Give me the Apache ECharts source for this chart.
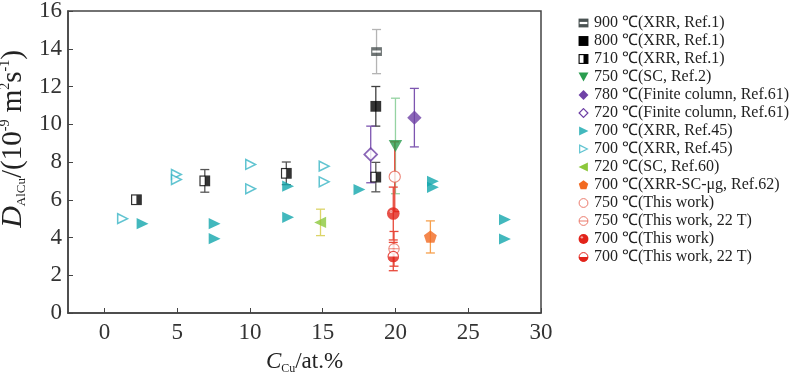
<!DOCTYPE html>
<html>
<head>
<meta charset="utf-8">
<script src="https://cdn.jsdelivr.net/npm/echarts@6/dist/echarts.min.js"></script>
<style>
  html, body { margin: 0; padding: 0; background: #fff; }
  #chart { width: 797px; height: 375px; }
</style>
</head>
<body>
<div id="chart"></div>
<script>
// [C_Cu (at.%), D (1e-9 m^2/s), error]
const xrr900 = [[18.7, 13.85, 1.17]]
const xrr800 = [[18.65, 10.95, 1.05]]
const xrr710 = [[2.2, 6.0, 0], [6.9, 7.0, 0.6], [12.5, 7.4, 0.6], [18.65, 7.2, 0.78]]
const sc750 = [[20.0, 8.85, 2.53]]
const fc780 = [[21.3, 10.35, 1.55]]
const fc720 = [[18.3, 8.4, 1.5]]
const xrr700 = [[2.6, 4.73], [7.55, 4.73], [7.55, 3.94], [12.6, 6.72], [12.6, 5.07],
  [17.5, 6.54], [22.55, 6.98], [22.55, 6.66], [27.5, 4.95], [27.5, 3.92]]
const xrr700b = [[1.25, 5.0], [4.95, 7.34], [4.95, 7.07], [10.05, 7.87], [10.05, 6.58],
  [15.1, 7.78], [15.1, 6.95]]
const sc720 = [[14.85, 4.8, 0.7]]
const mug700 = [[22.4, 4.03, 0.85]]
const tw750 = [[19.95, 7.22, 1.85]]
const tw750T = [[19.9, 3.4, 0.92]]
const tw700 = [[19.85, 5.27, 1.4]]
const tw700T = [[19.85, 2.99, 0.75]]

const xTicks = [0, 5, 10, 15, 20, 25, 30]

const svg = (body) =>
  'image://data:image/svg+xml;utf8,' +
  encodeURIComponent('<svg xmlns="http://www.w3.org/2000/svg" width="20" height="20" viewBox="0 0 20 20">' + body + '</svg>')

const icons = {
  gray: svg('<rect x="1" y="2" width="18" height="16" fill="#4a5252"/><rect x="3" y="8" width="14" height="4" fill="#fff"/>'),
  black: svg('<rect x="1" y="1" width="18" height="18" fill="#000"/>'),
  half: svg('<rect x="2" y="2" width="16" height="16" fill="#fff" stroke="#000" stroke-width="2"/><rect x="10" y="2" width="8" height="16" fill="#000"/>'),
  triDown: svg('<polygon points="1,2 19,2 10,18" fill="#2a9d4f"/>'),
  diamond: svg('<polygon points="10,1 19,10 10,19 1,10" fill="#6f42a6"/>'),
  diamondOpen: svg('<polygon points="10,2 18,10 10,18 2,10" fill="#fff" stroke="#6f42a6" stroke-width="2.2"/>'),
  triRight: svg('<polygon points="2,2 19,10 2,18" fill="#13a7ad"/>'),
  triRightOpen: svg('<polygon points="3,3 17,10 3,17" fill="#fff" stroke="#3ab6c6" stroke-width="2.2"/>'),
  triLeft: svg('<polygon points="18,2 1,10 18,18" fill="#8cc83c"/>'),
  pentagon: svg('<polygon points="10,1.5 18.6,7.7 15.3,17.8 4.7,17.8 1.4,7.7" fill="#f26a21"/>'),
  circleOpen: svg('<circle cx="10" cy="10" r="8" fill="#fff" stroke="#e86a5a" stroke-width="1.6"/>'),
  circleLine: svg('<circle cx="10" cy="10" r="8" fill="#fff" stroke="#e86a5a" stroke-width="1.6"/><line x1="2" y1="10" x2="18" y2="10" stroke="#e86a5a" stroke-width="1.6"/>'),
  circle: svg('<circle cx="10" cy="10" r="9" fill="#e2231a"/><circle cx="7" cy="7" r="2.2" fill="#fff" fill-opacity="0.6"/>'),
  circleHalf: svg('<circle cx="10" cy="10" r="8" fill="#fff" stroke="#e2231a" stroke-width="1.8"/><path d="M1.5,10 A8.5,8.5 0 0 0 18.5,10 Z" fill="#e2231a"/>')
}

const groups = [
  { name: '900 ℃(XRR, Ref.1)', data: xrr900, icon: icons.gray, size: [12, 11], err: '#b4b4b4' },
  { name: '800 ℃(XRR, Ref.1)', data: xrr800, icon: icons.black, size: [12, 12], err: '#404040' },
  { name: '710 ℃(XRR, Ref.1)', data: xrr710, icon: icons.half, size: [12, 12], err: '#555' },
  { name: '750 ℃(SC, Ref.2)', data: sc750, icon: icons.triDown, size: 15, err: '#95d3a2' },
  { name: '780 ℃(Finite column, Ref.61)', data: fc780, icon: icons.diamond, size: 16, err: '#7d55b0' },
  { name: '720 ℃(Finite column, Ref.61)', data: fc720, icon: icons.diamondOpen, size: 16, err: '#7d55b0' },
  { name: '700 ℃(XRR, Ref.45)', data: xrr700, icon: icons.triRight, size: 14 },
  { name: '700 ℃(XRR, Ref.45) ', data: xrr700b, icon: icons.triRightOpen, size: 14 },
  { name: '720 ℃(SC, Ref.60)', data: sc720, icon: icons.triLeft, size: 14, err: '#dcd468' },
  { name: '700 ℃(XRR-SC-μg, Ref.62)', data: mug700, icon: icons.pentagon, size: 15, err: '#f6a04d' },
  { name: '750 ℃(This work)', data: tw750, icon: icons.circleOpen, size: 14, err: '#e8483a' },
  { name: '750 ℃(This work, 22 T)', data: tw750T, icon: icons.circleLine, size: 13, err: '#e8483a' },
  { name: '700 ℃(This work)', data: tw700, icon: icons.circle, size: 14, err: '#e8483a' },
  { name: '700 ℃(This work, 22 T)', data: tw700T, icon: icons.circleHalf, size: 13, err: '#e8483a' }
]

const errorBar = (color) => (params, api) => {
  const x = api.value(0)
  const y = api.value(1)
  const e = api.value(2)
  if (!e) return
  const top = api.coord([x, y + e])
  const bot = api.coord([x, y - e])
  const hw = 4.5
  const style = { stroke: color, lineWidth: 1.3 }
  return {
    type: 'group',
    children: [
      { type: 'line', shape: { x1: top[0], y1: top[1], x2: bot[0], y2: bot[1] }, style },
      { type: 'line', shape: { x1: top[0] - hw, y1: top[1], x2: top[0] + hw, y2: top[1] }, style },
      { type: 'line', shape: { x1: bot[0] - hw, y1: bot[1], x2: bot[0] + hw, y2: bot[1] }, style }
    ]
  }
}

const series = []
groups.forEach((g) => {
  if (g.err) {
    series.push({
      type: 'custom',
      name: g.name,
      renderItem: errorBar(g.err),
      data: g.data,
      z: 1,
      silent: true
    })
  }
})
groups.forEach((g) => {
  series.push({
    type: 'scatter',
    name: g.name,
    symbol: g.icon,
    symbolSize: g.size,
    data: g.data.map((d) => [d[0], d[1]]),
    z: 3
  })
})

const serif = '"Liberation Serif", "Times New Roman", serif'
const chart = echarts.init(document.getElementById('chart'))

chart.setOption({
  animation: false,
  textStyle: { fontFamily: serif },
  grid: {
    left: 68,
    top: 11,
    right: 256,
    bottom: 62,
    outerBoundsMode: 'none',
    show: true,
    borderColor: '#444',
    borderWidth: 1.5
  },
  legend: {
    orient: 'vertical',
    left: 573,
    top: 10,
    itemWidth: 11,
    itemHeight: 11,
    itemGap: 2,
    data: groups.map((g) => ({ name: g.name, icon: g.icon })),
    textStyle: { fontFamily: serif, fontSize: 16, color: '#222', lineHeight: 11 },
    selectedMode: false
  },
  xAxis: {
    type: 'value',
    min: -2.5,
    max: 30,
    name: '{i|C}{sub|Cu}{n|/at.%}',
    nameLocation: 'middle',
    nameGap: 36,
    nameTextStyle: {
      rich: {
        i: { fontFamily: serif, fontStyle: 'italic', fontSize: 23, color: '#222', lineHeight: 26 },
        sub: { fontFamily: serif, fontSize: 12, color: '#222', lineHeight: 12, verticalAlign: 'bottom' },
        n: { fontFamily: serif, fontSize: 23, color: '#222', lineHeight: 26 }
      }
    },
    splitLine: { show: false },
    axisLine: { onZero: false, lineStyle: { color: '#444', width: 1.5 } },
    axisTick: { inside: true, length: 5, lineStyle: { color: '#444' }, customValues: xTicks },
    axisLabel: { fontFamily: serif, fontSize: 23, color: '#333', margin: 8, customValues: xTicks }
  },
  yAxis: {
    type: 'value',
    min: 0,
    max: 16,
    interval: 2,
    name: '{i|D}{sub|AlCu}{n|/(10}{sup|-9}{n| m}{sup|2}{n|s}{sup|-1}{n|)}',
    nameLocation: 'middle',
    nameRotate: 90,
    nameGap: 37,
    nameTextStyle: {
      padding: [0, 0, 0, 46],
      rich: {
        i: { fontFamily: serif, fontStyle: 'italic', fontSize: 30, color: '#222', lineHeight: 30 },
        sub: { fontFamily: serif, fontSize: 13, color: '#222', lineHeight: 13, verticalAlign: 'bottom' },
        sup: { fontFamily: serif, fontSize: 14, color: '#222', lineHeight: 14, verticalAlign: 'top' },
        n: { fontFamily: serif, fontSize: 29, color: '#222', lineHeight: 30 }
      }
    },
    splitLine: { show: false },
    axisLine: { onZero: false, lineStyle: { color: '#444', width: 1.5 } },
    axisTick: { inside: true, length: 5, lineStyle: { color: '#444' } },
    axisLabel: { fontFamily: serif, fontSize: 23, color: '#333', margin: 6 }
  },
  series: series
})
</script>
</body>
</html>
